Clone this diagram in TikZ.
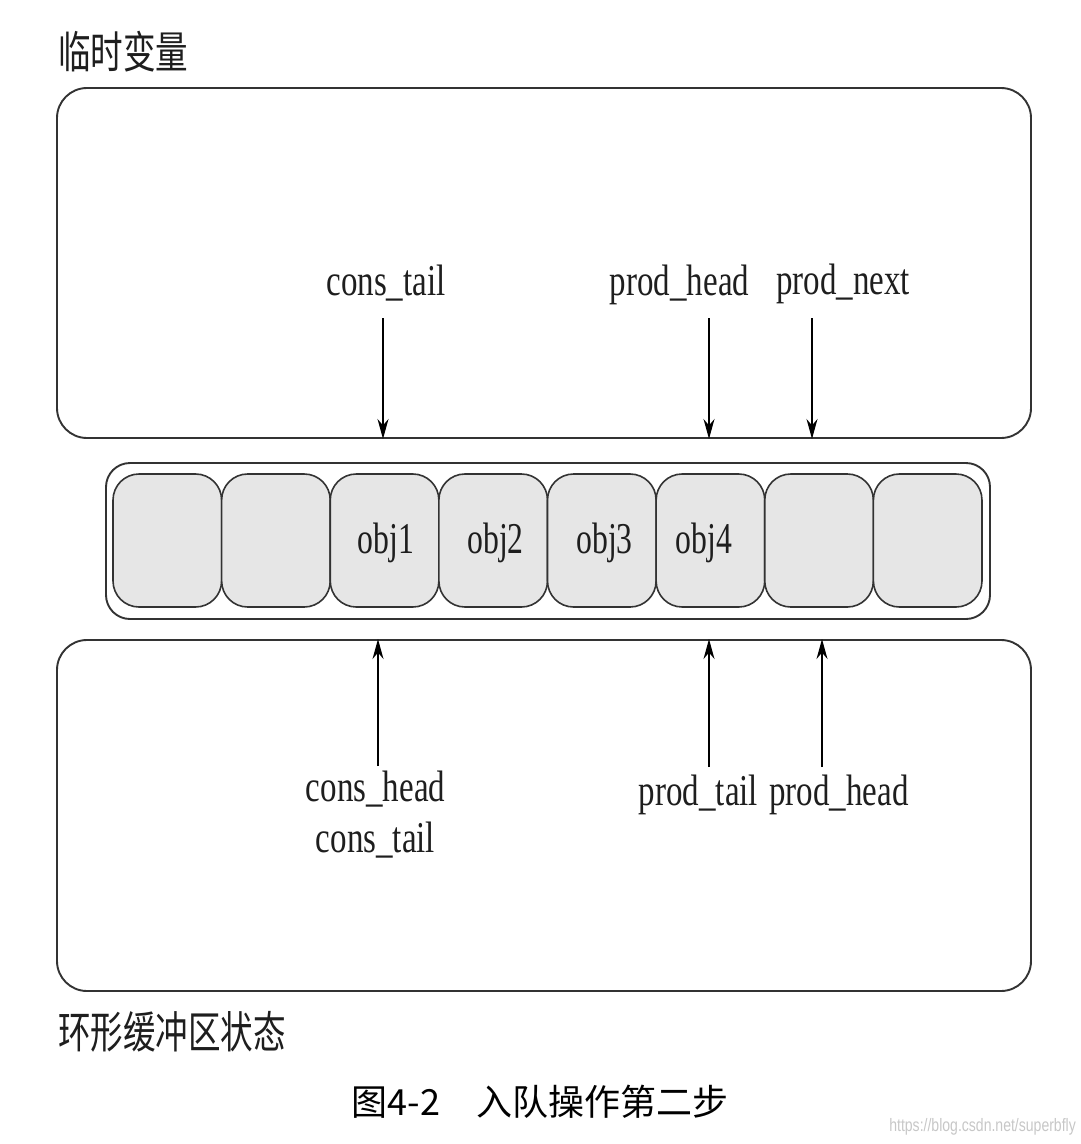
\documentclass[tikz,border=0pt]{standalone}
\usepackage{fontspec}
\setmainfont{Liberation Serif}
\newfontfamily\cjk{Noto Sans CJK SC}
\newfontfamily\wmfont{Liberation Sans}
\usetikzlibrary{arrows.meta}
\definecolor{linegray}{HTML}{333333}
\definecolor{cellfill}{HTML}{E6E6E6}
\definecolor{txt}{HTML}{1E1E1E}
\tikzset{
  bigbox/.style={draw=linegray, line width=1.9pt, rounded corners=30pt, minimum width=974pt, inner sep=0pt},
  ringbox/.style={draw=linegray, line width=1.9pt, rounded corners=24pt, minimum width=884pt, minimum height=156pt, inner sep=0pt},
  cellbox/.style={draw=linegray, line width=1.6pt, fill=cellfill, rounded corners=26pt, minimum width=108.6pt, minimum height=133pt, inner sep=0pt},
  lbl/.style={font=\fontsize{44}{48}\selectfont, text=txt, inner sep=0pt, xscale=0.75, anchor=base},
  objlbl/.style={font=\fontsize{44}{48}\selectfont, text=txt, inner sep=0pt, xscale=0.72, anchor=base},
  cjklbl/.style={font=\cjk\fontsize{44}{48}\selectfont, text=txt, inner sep=0pt, xscale=0.74, anchor=west},
  ptr/.style={draw=black, line width=1.3pt, -{Stealth[length=20pt,width=11pt]}}
}
\begin{document}
\begin{tikzpicture}[x=1pt,y=-1pt]
\useasboundingbox (0,0) rectangle (1081,1144);
% titles
\node[cjklbl] (ttmp) at (58,52) {临时变量};
\node[cjklbl] (tring) at (58,1032) {环形缓冲区状态};
% boxes
\node[bigbox, minimum height=350pt] (tmpbox) at (544,263) {};
\node[bigbox, minimum height=351pt] (statebox) at (544,815.5) {};
\node[ringbox] (buf) at (548,541) {};
% cells
\foreach \i in {1,...,8}{
  \node[cellbox] (c\i) at ({113+108.625*(\i-0.5)},540.5) {};
}
\node[objlbl] (o1) at (386,553) {obj1};
\node[objlbl] (o2) at (495.5,553) {obj2};
\node[objlbl] (o3) at (604.5,553) {obj3};
\node[objlbl] (o4) at (704,553) {obj4};
% top labels
\node[lbl] (lct) at (386,295) {cons\_tail};
\node[lbl] (lph) at (679.5,295) {prod\_head};
\node[lbl] (lpn) at (843,294) {prod\_next};
\coordinate (s1) at (383,318);
\coordinate (s2) at (709,318);
\coordinate (s3) at (812,318);
\draw[ptr] (s1) -- (s1 |- tmpbox.south);
\draw[ptr] (s2) -- (s2 |- tmpbox.south);
\draw[ptr] (s3) -- (s3 |- tmpbox.south);
% bottom labels
\node[lbl] (lch) at (375.5,801) {cons\_head};
\node[lbl] (lct2) at (375.5,852) {cons\_tail};
\node[lbl] (lpt) at (698.5,805) {prod\_tail};
\node[lbl] (lph2) at (839,805) {prod\_head};
\coordinate (b1) at (378,766);
\coordinate (b2) at (709,767);
\coordinate (b3) at (822,767);
\draw[ptr] (b1) -- (b1 |- statebox.north);
\draw[ptr] (b2) -- (b2 |- statebox.north);
\draw[ptr] (b3) -- (b3 |- statebox.north);
% caption
\node[font=\cjk\fontsize{36}{40}\selectfont, text=black, inner sep=0pt, xscale=1.0] (cap) at (540,1102) {图4-2\hspace{1em}入队操作第二步};
\node[font=\wmfont\fontsize{18}{20}\selectfont, text=black!22, inner sep=0pt, xscale=0.78, anchor=east] (wm) at (1076,1127) {https://blog.csdn.net/superbfly};
\end{tikzpicture}
\end{document}
